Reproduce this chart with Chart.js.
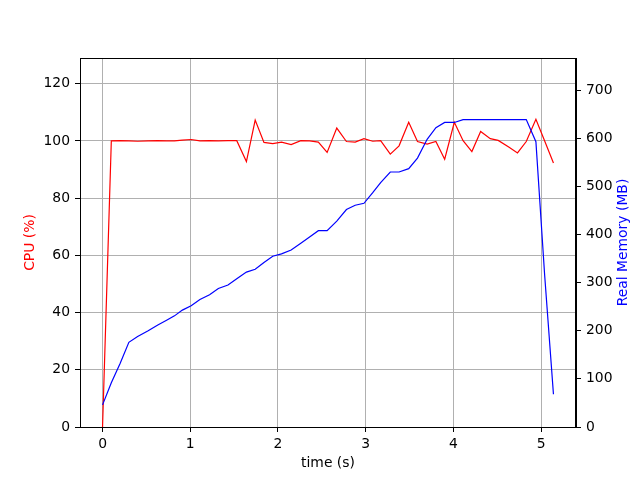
<!DOCTYPE html>
<html>
<head>
<meta charset="utf-8">
<script src="https://cdn.jsdelivr.net/npm/chart.js@4"></script>
<style>
  html, body { margin: 0; padding: 0; background: #fff; }
  canvas { display: block; }
</style>
</head>
<body>
<canvas id="usage" width="640" height="480"></canvas>
<script>
// sample times (s)
const times = [
  0, 0.10, 0.20, 0.30, 0.40, 0.52, 0.63, 0.73, 0.82, 0.91,
  1.01, 1.11, 1.22, 1.32, 1.43, 1.53, 1.64, 1.74, 1.84, 1.94,
  2.04, 2.15, 2.26, 2.36, 2.46, 2.56, 2.67, 2.78, 2.88, 2.98,
  3.08, 3.17, 3.28, 3.38, 3.49, 3.59, 3.70, 3.80, 3.90, 4.01,
  4.11, 4.21, 4.31, 4.42, 4.51, 4.63, 4.73, 4.83, 4.94, 5.04,
  5.14
];
// CPU (%)
const cpu = [
  0, 100.0, 100.1, 100.0, 99.9, 100.0, 100.1, 100.0, 100.0, 100.3,
  100.5, 100.0, 100.1, 100.0, 100.1, 100.1, 92.8, 107.3, 99.5, 99.1,
  99.6, 98.7, 100.1, 100.0, 99.6, 96.0, 104.5, 99.8, 99.6, 100.8,
  99.9, 100.1, 95.4, 98.3, 106.5, 99.8, 98.9, 99.8, 93.6, 106.5,
  100.1, 96.3, 103.3, 100.8, 100.2, 97.9, 95.8, 99.8, 107.6, 100.0,
  92.3
];
// Real memory (MB)
const mem = [
  46, 92, 132, 176, 188, 200, 212, 222, 231, 243,
  252, 265, 275, 288, 295, 308, 322, 328, 342, 355,
  360, 368, 382, 395, 408, 408, 428, 452, 461, 465,
  487, 508, 530, 530, 537, 559, 598, 622, 633, 633,
  639, 639, 639, 639, 639, 639, 639, 639, 593, 315,
  68
];

const xTicks = [0, 1, 2, 3, 4, 5];
const cpuTicks = [0, 20, 40, 60, 80, 100, 120];
const memTicks = [0, 100, 200, 300, 400, 500, 600, 700];

const FONT = { family: 'DejaVu Sans', size: 13.9 };

const frame = {
  id: 'frame',
  afterDatasetsDraw(chart) {
    const { ctx, chartArea: a } = chart;
    ctx.save();
    ctx.strokeStyle = '#000';
    ctx.lineWidth = 1;
    ctx.strokeRect(Math.round(a.left) + 0.5, Math.round(a.top) + 0.5,
      Math.round(a.right - a.left) - 1, Math.round(a.bottom - a.top));
    ctx.restore();
  },
  afterDraw(chart) {
    const { ctx, chartArea: a } = chart;
    ctx.save();
    ctx.translate(623, (a.top + a.bottom) / 2);
    ctx.rotate(-Math.PI / 2);
    ctx.font = '13.9px "DejaVu Sans"';
    ctx.fillStyle = '#0000ff';
    ctx.textAlign = 'center';
    ctx.textBaseline = 'middle';
    ctx.fillText('Real Memory (MB)', 0, 0);
    ctx.restore();
  }
};

const pairs = (ys) => times.map((t, i) => ({ x: t, y: ys[i] }));
const fixTicks = (list) => (scale) => { scale.ticks = list.map(v => ({ value: v })); };

new Chart(document.getElementById('usage'), {
  type: 'line',
  data: {
    datasets: [
      {
        label: 'CPU',
        data: pairs(cpu),
        yAxisID: 'y',
        borderColor: '#ff0000',
        borderWidth: 1.2,
        pointRadius: 0,
        tension: 0,
        order: 1
      },
      {
        label: 'Memory',
        data: pairs(mem),
        yAxisID: 'y2',
        borderColor: '#0000ff',
        borderWidth: 1.2,
        pointRadius: 0,
        tension: 0,
        order: 0
      }
    ]
  },
  options: {
    responsive: false,
    animation: false,
    layout: { padding: { top: 58, left: 0, right: 0, bottom: 0 } },
    plugins: { legend: { display: false }, tooltip: { enabled: false } },
    scales: {
      x: {
        type: 'linear',
        min: -0.257,
        max: 5.397,
        afterBuildTicks: fixTicks(xTicks),
        afterFit(scale) { scale.height = 53; },
        grid: { color: '#b0b0b0', lineWidth: 1, tickColor: '#000', tickLength: 5 },
        border: { color: '#000', width: 1 },
        ticks: { color: '#000', font: FONT, padding: 4, maxRotation: 0 },
        title: { display: true, text: 'time (s)', color: '#000', font: FONT, padding: { top: 0, bottom: 8 } }
      },
      y: {
        position: 'left',
        min: 0,
        max: 129,
        afterBuildTicks: fixTicks(cpuTicks),
        afterFit(scale) { scale.width = 80; },
        grid: { color: '#b0b0b0', lineWidth: 1, tickColor: '#000', tickLength: 5 },
        border: { color: '#000', width: 1 },
        ticks: { color: '#000', font: FONT, padding: 5 },
        title: { display: true, text: 'CPU (%)', color: '#ff0000', font: FONT, padding: { top: 22, bottom: 0 } }
      },
      y2: {
        position: 'right',
        min: 0,
        max: 767,
        afterBuildTicks: fixTicks(memTicks),
        afterFit(scale) { scale.width = 64; },
        grid: { drawOnChartArea: false, tickColor: '#000', tickLength: 5 },
        border: { color: '#000', width: 1 },
        ticks: { color: '#000', font: FONT, padding: 5 }
      }
    }
  },
  plugins: [frame]
});
</script>
</body>
</html>
